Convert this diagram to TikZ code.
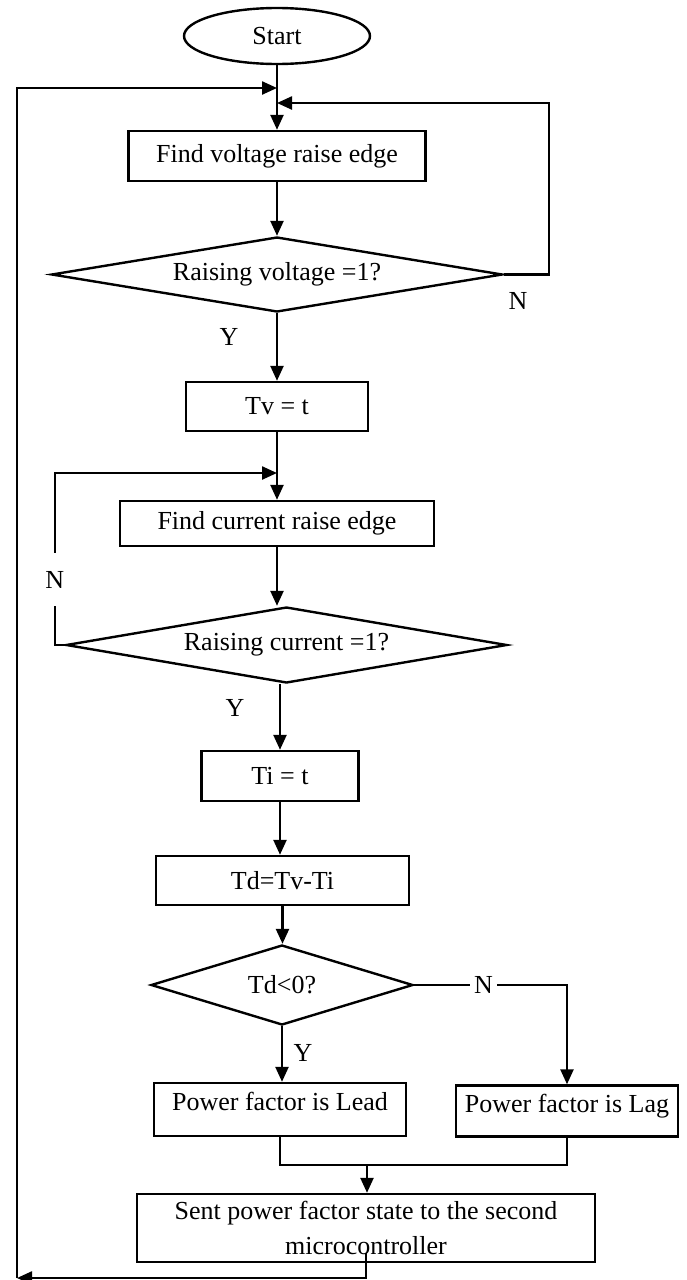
\documentclass[tikz,border=0pt]{standalone}
\usepackage{fontspec}
\setmainfont{Liberation Serif}
\usetikzlibrary{
  shapes.geometric,
  arrows.meta}

\begin{document}
\begin{tikzpicture}[
  x=0.5pt,
  y=-0.5pt,
  every node/.style={font=\fontsize{13}{15.6}\selectfont}]
\tikzset{
  flow/.style={line width=1.2pt, -{Triangle[length=7.5pt,width=6.5pt]}},
  plain/.style={line width=1.2pt},
  proc/.style={draw, line width=1.2pt, rectangle, inner sep=0pt},
  term/.style={draw, line width=1.2pt, ellipse, inner sep=0pt},
  test/.style={draw, line width=1.2pt, diamond, inner sep=0pt},
  toptext/.style={text height=12pt, text depth=11pt},
  tag/.style={inner sep=1pt},
  gapv/.style={fill=white, inner xsep=1pt, inner ysep=9pt},
  gaph/.style={fill=white, inner xsep=2pt, inner ysep=1pt},
}
\useasboundingbox (0,0) rectangle (686,1280);

\node[term, minimum width=93pt, minimum height=28pt] (start) at (277,36) {Start};
\node[proc, minimum width=148.5pt, minimum height=25pt] (find_v) at (277,156) {Find voltage raise edge};
\node[test, aspect=6, minimum width=225.5pt, minimum height=37.5pt] (raise_v) at (277,274.5) {Raising voltage =1?};
\node[proc, minimum width=91pt, minimum height=24.5pt] (tv) at (277,406.5) {Tv = t};
\node[proc, minimum width=157pt, minimum height=22.5pt] (find_i) at (277,523.5) {Find current raise edge};
\node[test, aspect=5.8, minimum width=220.5pt, minimum height=38pt] (raise_i) at (286.5,645) {Raising current =1?};
\node[proc, minimum width=78.5pt, minimum height=25pt] (ti) at (280,776) {Ti = t};
\node[proc, minimum width=126.5pt, minimum height=24.5pt] (td) at (282.5,880.5) {Td=Tv-Ti};
\node[test, aspect=3.3, minimum width=131pt, minimum height=40pt] (sign) at (282,985) {Td<0?};
\node[proc, toptext, minimum width=126pt, minimum height=26.5pt] (lead) at (280,1109.5) {Power factor is Lead};
\node[proc, toptext, minimum width=111pt, minimum height=25.5pt] (lag) at (567,1111) {Power factor is Lag};
\node[proc, align=center, minimum width=229pt, minimum height=34pt] (send) at (366,1228)
  {Sent power factor state to the second\\[2pt]microcontroller};

\node[tag] (y_v) at (229,337) {Y};
\node[tag] (n_v) at (518,301) {N};
\node[tag] (y_i) at (235,708) {Y};
\node[tag] (y_s) at (303,1053) {Y};

\coordinate (back_in) at (277,88);
\coordinate (loop_v) at (277,103);
\coordinate (loop_i) at (277,473);
\coordinate (merge) at (367,1165);
\coordinate (back) at (17,1278);

\draw[flow] (start) -- (find_v);
\draw[flow] (find_v) -- (raise_v);
\draw[flow] (raise_v) -- (tv);
\draw[flow] (tv) -- (find_i);
\draw[flow] (find_i) -- (find_i |- raise_i.north);
\draw[flow] (raise_i.south -| ti) -- (ti);
\draw[flow] (ti) -- (ti |- td.north);
\draw[flow] (td) -- (td |- sign.north);
\draw[flow] (sign) -- (sign |- lead.north);
\draw[flow] (sign.east) -| node[gaph, pos=0.227] {N} (lag);
\draw[plain] (lead) |- (merge) -| (lag);
\draw[flow] (merge) -- (merge |- send.north);

\draw[flow] (raise_v.east) -- ++(45.5,0) |- (loop_v);
\draw[flow] (raise_i.west) -- ++(-10,0) -- node[gapv, pos=0.38] {N} ++(0,-172) -- (loop_i);

\draw[flow] ([yshift=5pt]send.south) -- (send.south |- back) -- (back);
\draw[flow] (back) |- (back_in);
\end{tikzpicture}
\end{document}
